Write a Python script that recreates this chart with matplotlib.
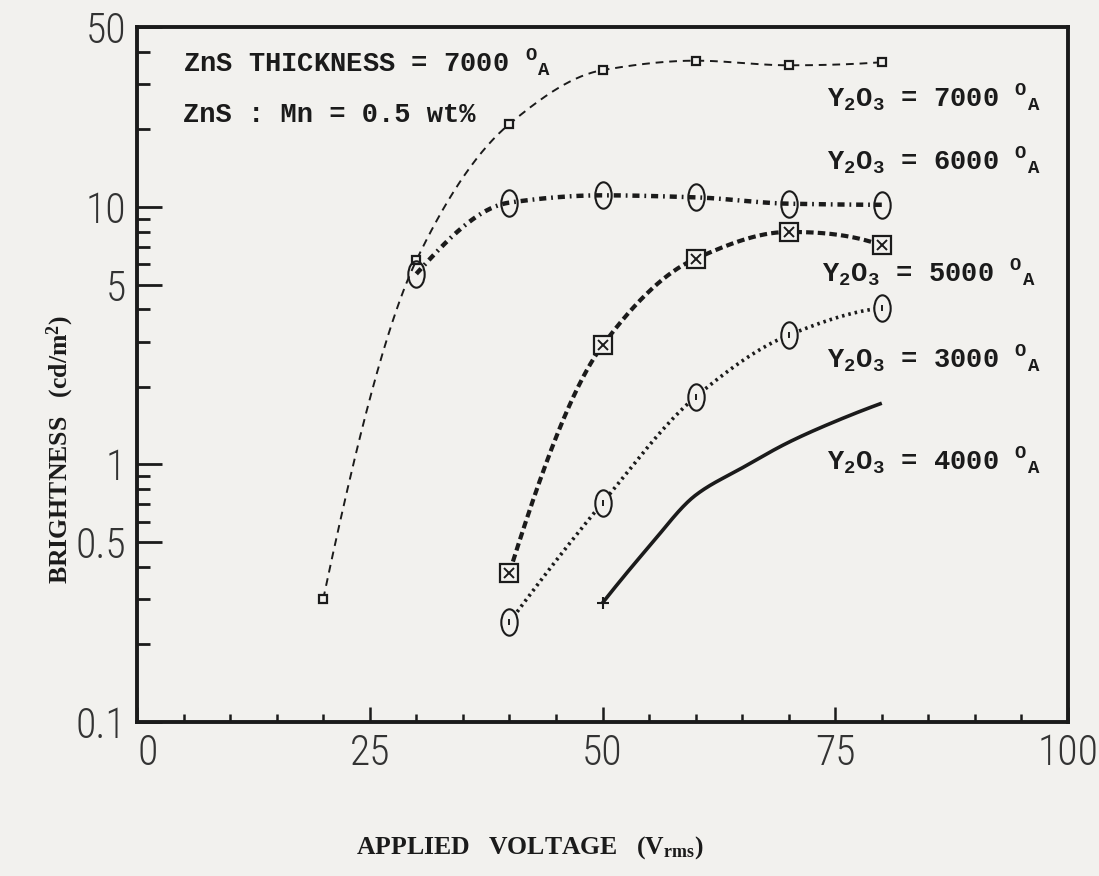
import numpy as np
import matplotlib
matplotlib.use("Agg")
import matplotlib.pyplot as plt
from matplotlib import font_manager
from matplotlib.path import Path

# brightness (cd/m2) vs applied voltage (Vrms), one series per Y2O3 thickness
voltage_7000 = [20, 30, 40, 50, 60, 70, 80]
bright_7000 = [0.30, 6.2, 21, 34, 37, 35.5, 36.5]
voltage_6000 = [30, 40, 50, 60, 70, 80]
bright_6000 = [5.5, 10.4, 11.1, 10.9, 10.3, 10.2]
voltage_5000 = [40, 50, 60, 70, 80]
bright_5000 = [0.38, 2.9, 6.3, 8.0, 7.1]
voltage_3000 = [40, 50, 60, 70, 80]
bright_3000 = [0.244, 0.71, 1.83, 3.18, 4.05]
voltage_4000 = [50, 55, 60, 65, 70, 75, 80]
bright_4000 = [0.29, 0.48, 0.76, 0.97, 1.22, 1.47, 1.73]

y_major = [0.1, 0.5, 1, 5, 10, 50]
y_major_labels = ["0.1", "0.5", "1", "5", "10", "50"]
y_minor = [0.2, 0.3, 0.4, 0.6, 0.7, 0.8, 0.9, 2, 3, 4, 6, 7, 8, 9, 20, 30, 40]
x_major = [0, 25, 50, 75, 100]

INK = "#1b1b1b"
PAPER = "#f2f1ee"

plt.rcParams["mathtext.fontset"] = "custom"
plt.rcParams["mathtext.default"] = "regular"

# thin, narrow plotter-style digits for the tick labels
installed = {f.name for f in font_manager.fontManager.ttflist}
if "Roboto Condensed" in installed:
    tick_font = dict(family="Roboto Condensed", weight="light", size=30)
elif "Liberation Sans Narrow" in installed:
    tick_font = dict(family="Liberation Sans Narrow", weight="normal", size=30)
else:
    tick_font = dict(family="Roboto", weight="light", size=28)


def smooth(xs, ys, n=300):
    """monotone cubic through the points, in log-y space"""
    x = np.asarray(xs, float)
    y = np.log10(np.asarray(ys, float))
    h = np.diff(x)
    d = np.diff(y) / h
    m = np.zeros_like(y)
    for k in range(1, len(x) - 1):
        if d[k - 1] * d[k] > 0:
            w1 = 2 * h[k] + h[k - 1]
            w2 = h[k] + 2 * h[k - 1]
            m[k] = (w1 + w2) / (w1 / d[k - 1] + w2 / d[k])
    m[0] = ((2 * h[0] + h[1]) * d[0] - h[0] * d[1]) / (h[0] + h[1])
    if np.sign(m[0]) != np.sign(d[0]):
        m[0] = 0
    m[-1] = ((2 * h[-1] + h[-2]) * d[-1] - h[-1] * d[-2]) / (h[-1] + h[-2])
    if np.sign(m[-1]) != np.sign(d[-1]):
        m[-1] = 0
    xx = np.linspace(x[0], x[-1], n)
    i = np.clip(np.searchsorted(x, xx) - 1, 0, len(x) - 2)
    t = (xx - x[i]) / h[i]
    yy = ((2 * t**3 - 3 * t**2 + 1) * y[i] + (t**3 - 2 * t**2 + t) * h[i] * m[i]
          + (-2 * t**3 + 3 * t**2) * y[i + 1] + (t**3 - t**2) * h[i] * m[i + 1])
    return xx, 10**yy


# tall oval marker, like a typed "0"
circ = Path.unit_circle()
oval = Path(circ.vertices * np.array([0.62, 1.0]), circ.codes)

fig = plt.figure(figsize=(10.99, 8.76), dpi=100, facecolor=PAPER)
ax = fig.add_axes([137 / 1099, 1 - 722 / 876, 931 / 1099, 695 / 876])
ax.set_facecolor(PAPER)

# Y2O3 = 7000 : thin dashed, small squares
xs, ys = smooth(voltage_7000, bright_7000)
ax.plot(xs, ys, color=INK, lw=1.4, ls=(0, (4, 3)))
ax.plot(voltage_7000, bright_7000, ls="none", marker="s", ms=6, mfc=PAPER,
        mec=INK, mew=1.6)

# Y2O3 = 6000 : heavy dash-dot, ovals
xs, ys = smooth(voltage_6000, bright_6000)
ax.plot(xs, ys, color=INK, lw=3.2, ls=(0, (1.6, 1.1, 0.4, 1.1)))
ax.plot(voltage_6000, bright_6000, ls="none", marker=oval, ms=19, mfc="none",
        mec=INK, mew=1.5)

# Y2O3 = 5000 : heavy dashed, boxed crosses
xs, ys = smooth(voltage_5000, bright_5000)
ax.plot(xs, ys, color=INK, lw=3.0, ls=(0, (1.8, 1.0)))
ax.plot(voltage_5000, bright_5000, ls="none", marker="s", ms=13, mfc=PAPER,
        mec=INK, mew=1.6)
ax.plot(voltage_5000, bright_5000, ls="none", marker="x", ms=7, mec=INK, mew=1.4)

# Y2O3 = 3000 : dotted, ovals with a tick
xs, ys = smooth(voltage_3000, bright_3000)
ax.plot(xs, ys, color=INK, lw=2.6, ls=(0, (0.7, 1.1)))
ax.plot(voltage_3000, bright_3000, ls="none", marker=oval, ms=19, mfc=PAPER,
        mec=INK, mew=1.5)
ax.plot(voltage_3000, bright_3000, ls="none", marker="|", ms=5, mec=INK, mew=1.4)

# Y2O3 = 4000 : solid
xs, ys = smooth(voltage_4000, bright_4000)
ax.plot(xs, ys, color=INK, lw=2.6, solid_capstyle="butt")
ax.plot(voltage_4000[:1], bright_4000[:1], ls="none", marker="+", ms=8, mec=INK, mew=1.5)

ax.set_yscale("log")
ax.set_xlim(0, 100)
ax.set_ylim(0.1, 50)

ax.set_xticks(x_major)
ax.set_xticks(np.arange(0, 101, 5), minor=True)
ax.set_yticks(y_major)
ax.set_yticklabels(y_major_labels)
ax.set_yticks(y_minor, minor=True)
ax.yaxis.set_minor_formatter(plt.NullFormatter())

for s in ax.spines.values():
    s.set_linewidth(2.8)
    s.set_color(INK)

ax.tick_params(axis="both", which="both", direction="in", color=INK,
               top=False, right=False)
ax.tick_params(axis="y", which="major", length=18, width=2.0, pad=8)
ax.tick_params(axis="y", which="minor", length=9, width=2.0)
ax.tick_params(axis="x", which="major", length=11, width=1.8, pad=8)
ax.tick_params(axis="x", which="minor", length=6, width=1.8)
for lab in ax.get_xticklabels() + ax.get_yticklabels():
    lab.set_fontfamily(tick_font["family"])
    lab.set_fontweight(tick_font["weight"])
    lab.set_fontsize(tick_font["size"])
    lab.set_color("#333333")
ax.get_xticklabels()[0].set_ha("left")

# angstrom written as a raised O followed by a lowered A
ANG = r"$^{O}$$_{A}$"
mono = dict(family="Liberation Mono", weight="bold", color=INK, fontsize=19.5)
ax.text(0.049, 0.95, "ZnS THICKNESS = 7000 " + ANG, transform=ax.transAxes,
        va="center", **mono)
ax.text(0.049, 0.873, r"ZnS : Mn = 0.5 wt%", transform=ax.transAxes,
        va="center", **mono)

series_labels = ["7000", "6000", "5000", "3000", "4000"]
label_x = [0.741, 0.741, 0.736, 0.741, 0.741]
label_y = [0.899, 0.809, 0.647, 0.524, 0.377]
for name, lx, ly in zip(series_labels, label_x, label_y):
    ax.text(lx, ly, r"Y$_2$O$_3$ = " + name + " " + ANG, transform=ax.transAxes,
            va="center", **mono)

serif = dict(family="Liberation Serif", weight="bold", color=INK, fontsize=18.5)
fig.text(530 / 1099, 1 - 848 / 876, r"APPLIED   VOLTAGE   (V$_{rms}$)",
         ha="center", va="center", **serif)
fig.text(60 / 1099, 1 - 450 / 876, r"BRIGHTNESS   (cd/m$^2$)", rotation=90,
         ha="center", va="center", **serif)

fig.savefig("out.png", dpi=100, facecolor=PAPER)
